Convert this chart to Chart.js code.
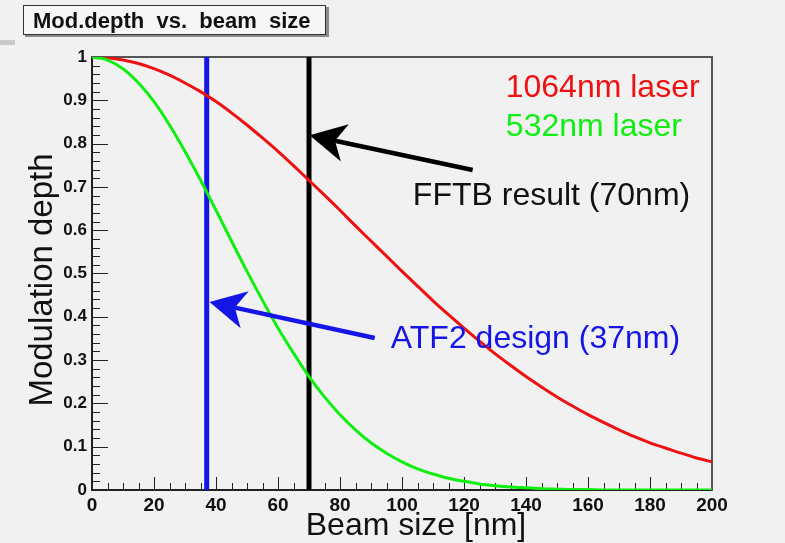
<!DOCTYPE html>
<html>
<head>
<meta charset="utf-8">
<script src="https://cdn.jsdelivr.net/npm/chart.js@4"></script>
<style>
  html, body { margin: 0; padding: 0; background: #f1f1f1; }
  #wrap { width: 785px; height: 543px; position: relative; }
</style>
</head>
<body>
<div id="wrap"><canvas id="depthChart"></canvas></div>
<script>
// beam size [nm] and modulation depth for each laser
const beamSize = [0, 5, 10, 15, 20, 25, 30, 35, 40, 45, 50, 55, 60, 65, 70, 75, 80, 85, 90, 95, 100,
  105, 110, 115, 120, 125, 130, 135, 140, 145, 150, 155, 160, 165, 170, 175, 180, 185, 190, 195, 200];
const depth1064 = [1, 0.998, 0.993, 0.985, 0.973, 0.958, 0.94, 0.92, 0.897, 0.871, 0.843, 0.813, 0.782, 0.749, 0.715, 0.681, 0.646, 0.61, 0.575, 0.54, 0.505,
  0.471, 0.437, 0.405, 0.374, 0.344, 0.315, 0.288, 0.262, 0.238, 0.215, 0.194, 0.174, 0.156, 0.139, 0.123, 0.109, 0.097, 0.085, 0.074, 0.065];
const depth532 = [1, 0.993, 0.973, 0.94, 0.897, 0.843, 0.782, 0.716, 0.646, 0.575, 0.505, 0.438, 0.374, 0.316, 0.262, 0.215, 0.174, 0.139, 0.109, 0.085, 0.065,
  0.049, 0.037, 0.027, 0.02, 0.014, 0.01, 0.007, 0.005, 0.003, 0.002, 0.001, 0.001, 0, 0, 0, 0, 0, 0, 0, 0];

// marked beam sizes
const atf2Design = 37;
const fftbResult = 70;

const xRange = [0, 200];
const yRange = [0, 1];
const xMajorStep = 20;
const xMinorStep = 5;
const yMajorStep = 0.1;
const yMinorStep = 0.02;

const FONT = "'Liberation Sans', Arial, Helvetica, sans-serif";
const RED = "#ee1111";
const GREEN = "#11ee11";
const BLUE = "#1515e8";

const toPoints = (xs, ys) => xs.map((x, i) => ({ x: x, y: ys[i] }));
const vline = (x) => [{ x: x, y: yRange[0] }, { x: x, y: yRange[1] }];

// annotation texts and arrows, in data units
const notes = [
  { text: "1064nm laser", x: 196, y: 0.907, align: "right", color: RED },
  { text: "532nm laser", x: 133.5, y: 0.817, align: "left", color: GREEN },
  { text: "FFTB result (70nm)", x: 103.5, y: 0.658, align: "left", color: "#111" },
  { text: "ATF2 design (37nm)", x: 96.4, y: 0.328, align: "left", color: BLUE },
];
const arrows = [
  { from: [122.8, 0.739], to: [70.2, 0.819], color: "#000" },
  { from: [91.2, 0.351], to: [37.9, 0.434], color: BLUE },
];

// ROOT-like frame with inward ticks, plus title box and axis titles
const frameDecor = {
  id: "frameDecor",
  beforeDatasetsDraw(chart) {
    const { ctx, chartArea: a, scales } = chart;
    const xs = scales.x, ys = scales.y;
    ctx.save();
    ctx.strokeStyle = "#222";
    ctx.lineWidth = 1;
    ctx.beginPath();
    for (let v = xRange[0]; v <= xRange[1] + 1e-9; v += xMinorStep) {
      const px = Math.round(xs.getPixelForValue(v)) + 0.5;
      const major = Math.abs(v / xMajorStep - Math.round(v / xMajorStep)) < 1e-6;
      const len = major ? 13 : 7;
      ctx.moveTo(px, a.bottom);
      ctx.lineTo(px, a.bottom - len);
    }
    for (let v = yRange[0]; v <= yRange[1] + 1e-9; v += yMinorStep) {
      const py = Math.round(ys.getPixelForValue(v)) + 0.5;
      const major = Math.abs(v / yMajorStep - Math.round(v / yMajorStep)) < 1e-6;
      const len = major ? 16 : 8;
      ctx.moveTo(a.left, py);
      ctx.lineTo(a.left + len, py);
    }
    ctx.stroke();

    // frame
    ctx.strokeStyle = "#555";
    ctx.lineWidth = 2;
    ctx.strokeRect(a.left, a.top, a.right - a.left, a.bottom - a.top);
    ctx.strokeStyle = "#111";
    ctx.lineWidth = 1.5;
    ctx.beginPath();
    ctx.moveTo(a.left, a.top);
    ctx.lineTo(a.left, a.bottom);
    ctx.lineTo(a.right, a.bottom);
    ctx.stroke();

    // title box
    ctx.fillStyle = "#8a8a8a";
    ctx.fillRect(25, 7, 304, 30);
    ctx.fillStyle = "#f6f6f6";
    ctx.fillRect(23, 5, 302, 29);
    ctx.strokeStyle = "#333";
    ctx.lineWidth = 1;
    ctx.strokeRect(23.5, 5.5, 302, 29);
    ctx.fillStyle = "#111";
    ctx.font = "bold 22px " + FONT;
    ctx.textBaseline = "alphabetic";
    ctx.textAlign = "left";
    ctx.fillText("Mod.depth  vs.  beam  size", 33, 28);

    ctx.fillStyle = "#c9c9c9";
    ctx.fillRect(0, 40, 15, 5);

    // axis titles
    ctx.fillStyle = "#111";
    ctx.font = "32px " + FONT;
    ctx.textAlign = "center";
    ctx.fillText("Beam size [nm]", 416, 535);
    ctx.save();
    ctx.translate(52, 280);
    ctx.rotate(-Math.PI / 2);
    ctx.font = "33px " + FONT;
    ctx.fillText("Modulation depth", 0, 0);
    ctx.restore();
    ctx.restore();
  },
  afterDatasetsDraw(chart) {
    const { ctx, scales } = chart;
    const xs = scales.x, ys = scales.y;
    ctx.save();
    ctx.font = "32px " + FONT;
    ctx.textBaseline = "alphabetic";
    notes.forEach((n) => {
      ctx.fillStyle = n.color;
      ctx.textAlign = n.align;
      ctx.fillText(n.text, xs.getPixelForValue(n.x), ys.getPixelForValue(n.y));
    });
    arrows.forEach((ar) => {
      const x0 = xs.getPixelForValue(ar.from[0]), y0 = ys.getPixelForValue(ar.from[1]);
      const x1 = xs.getPixelForValue(ar.to[0]), y1 = ys.getPixelForValue(ar.to[1]);
      const ang = Math.atan2(y1 - y0, x1 - x0);
      const headLen = 36, headHalf = 19;
      const bx = x1 - headLen * Math.cos(ang), by = y1 - headLen * Math.sin(ang);
      const nx = -Math.sin(ang), ny = Math.cos(ang);
      const notchX = x1 - headLen * 0.72 * Math.cos(ang), notchY = y1 - headLen * 0.72 * Math.sin(ang);
      ctx.strokeStyle = ar.color;
      ctx.fillStyle = ar.color;
      ctx.lineWidth = 4.5;
      ctx.beginPath();
      ctx.moveTo(x0, y0);
      ctx.lineTo(notchX, notchY);
      ctx.stroke();
      ctx.beginPath();
      ctx.moveTo(x1, y1);
      ctx.lineTo(bx + nx * headHalf, by + ny * headHalf);
      ctx.lineTo(notchX, notchY);
      ctx.lineTo(bx - nx * headHalf, by - ny * headHalf);
      ctx.closePath();
      ctx.fill();
    });
    ctx.restore();
  },
};

new Chart(document.getElementById("depthChart"), {
  type: "scatter",
  data: {
    datasets: [
      {
        label: "532nm laser",
        data: toPoints(beamSize, depth532),
        showLine: true,
        borderColor: GREEN,
        borderWidth: 3,
        pointRadius: 0,
        tension: 0.3,
      },
      {
        label: "1064nm laser",
        data: toPoints(beamSize, depth1064),
        showLine: true,
        borderColor: RED,
        borderWidth: 3,
        pointRadius: 0,
        tension: 0.3,
      },
      {
        label: "ATF2 design",
        data: vline(atf2Design),
        showLine: true,
        borderColor: BLUE,
        borderWidth: 5,
        pointRadius: 0,
      },
      {
        label: "FFTB result",
        data: vline(fftbResult),
        showLine: true,
        borderColor: "#000",
        borderWidth: 5,
        pointRadius: 0,
      },
    ],
  },
  options: {
    responsive: true,
    maintainAspectRatio: false,
    animation: false,
    layout: { padding: { top: 57, right: 73, left: 0, bottom: 0 } },
    plugins: {
      legend: { display: false },
      tooltip: { enabled: false },
    },
    scales: {
      x: {
        type: "linear",
        min: xRange[0],
        max: xRange[1],
        grid: { display: false, drawTicks: false },
        border: { display: false },
        ticks: {
          stepSize: xMajorStep,
          color: "#111",
          padding: 4,
          maxRotation: 0,
          font: { family: FONT, size: 19, weight: "bold" },
        },
        afterFit(scale) { scale.height = 53; },
      },
      y: {
        min: yRange[0],
        max: yRange[1],
        grid: { display: false, drawTicks: false },
        border: { display: false },
        ticks: {
          stepSize: yMajorStep,
          color: "#111",
          padding: 5,
          font: { family: FONT, size: 17, weight: "bold" },
          callback: (v) => String(Number(v.toFixed(2))),
        },
        afterFit(scale) { scale.width = 92; },
      },
    },
  },
  plugins: [frameDecor],
});
</script>
</body>
</html>
